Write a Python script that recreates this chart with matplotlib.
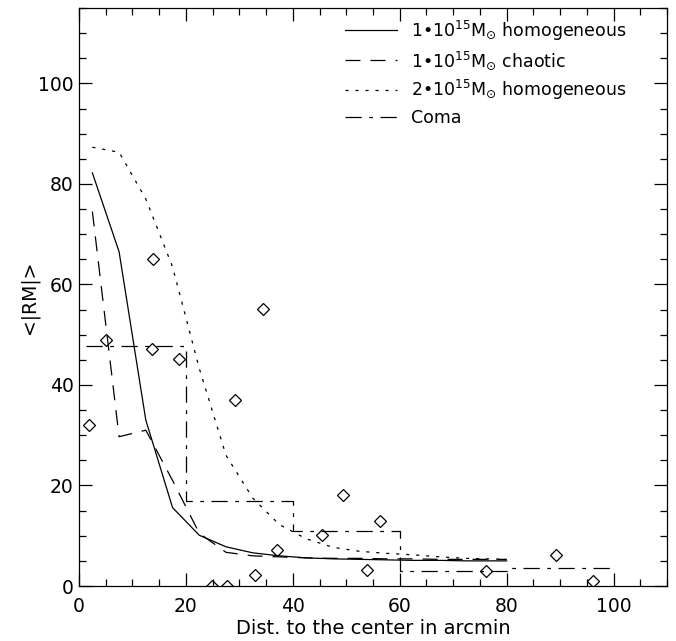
import matplotlib
matplotlib.use("Agg")
import matplotlib.pyplot as plt
from matplotlib.ticker import MultipleLocator

# model curves (mean |RM| vs distance)
x_mod = [2.5, 7.5, 12.5, 17.5, 22.5, 27.5, 32.5, 37.5, 42.5, 47.5, 52.5, 57.5, 62.5, 67.5, 72.5, 80.0]
y_hom1 = [82.2, 66.5, 33.0, 15.6, 10.1, 7.8, 6.6, 6.0, 5.6, 5.4, 5.3, 5.2, 5.1, 5.1, 5.0, 5.0]
y_chaotic = [74.5, 29.7, 31.0, 21.0, 10.5, 6.7, 6.0, 5.8, 5.6, 5.5, 5.5, 5.4, 5.4, 5.3, 5.3, 5.3]
y_hom2 = [87.3, 86.3, 77.0, 63.5, 43.3, 26.0, 17.5, 12.2, 9.4, 7.7, 6.9, 6.5, 6.2, 5.8, 5.5, 5.3]

# Coma binned observations (step)
coma_edges = [1.3, 20, 40, 60, 80, 100]
coma_vals = [47.7, 17.0, 11.0, 3.0, 3.6]

# single sources
src_x = [1.9, 5.0, 13.8, 13.6, 18.8, 24.8, 27.6, 29.2, 32.9, 34.5, 37.1, 45.4, 49.3, 53.9, 56.3, 76.2, 89.2, 96.1]
src_y = [32.0, 49.0, 65.0, 47.1, 45.1, 0.0, 0.0, 37.1, 2.2, 55.1, 7.2, 10.1, 18.1, 3.2, 13.0, 3.0, 6.2, 1.0]

fig = plt.figure(figsize=(6.76, 6.41), dpi=100)
ax = fig.add_axes([79/676, 1-586/641, 588/676, 578/641])

lw = 0.9
l1, = ax.plot(x_mod, y_hom1, color='black', lw=lw, label='1•10$^{15}$M$_{\\odot}$ homogeneous')
l2, = ax.plot(x_mod, y_chaotic, color='black', lw=lw, dashes=(12, 8),
              label='1•10$^{15}$M$_{\\odot}$ chaotic')
l3, = ax.plot(x_mod, y_hom2, color='black', lw=lw, dashes=(2.5, 5.5),
              label='2•10$^{15}$M$_{\\odot}$ homogeneous')
l4, = ax.step(coma_edges, coma_vals + [coma_vals[-1]], where='post', color='black', lw=lw,
              dashes=(13, 6, 3, 6), label='Coma')
ax.plot(src_x, src_y, 'D', ms=6.5, mfc='none', mec='black', mew=0.9, ls='none')

ax.set_xlim(0, 110)
ax.set_ylim(0, 115)
ax.xaxis.set_major_locator(MultipleLocator(20))
ax.xaxis.set_minor_locator(MultipleLocator(5))
ax.yaxis.set_major_locator(MultipleLocator(20))
ax.yaxis.set_minor_locator(MultipleLocator(5))
ax.tick_params(which='both', direction='in', top=True, right=True, labelsize=13.5, width=0.9)
ax.tick_params(which='major', length=9.5)
ax.tick_params(axis='x', which='major', pad=8)
ax.tick_params(axis='y', which='major', pad=4)
ax.tick_params(which='minor', length=5)
for s in ax.spines.values():
    s.set_linewidth(0.9)

ax.set_xlabel('Dist. to the center in arcmin', fontsize=14, labelpad=2)
ax.set_ylabel('<|RM|>', fontsize=13.5, labelpad=-1)

ax.legend(handles=[l1, l2, l3, l4], loc='upper right', frameon=False, fontsize=12.5,
          handlelength=3.0, handletextpad=0.8, labelspacing=0.38,
          bbox_to_anchor=(0.958, 1.009))

fig.savefig('out.png', dpi=100)
